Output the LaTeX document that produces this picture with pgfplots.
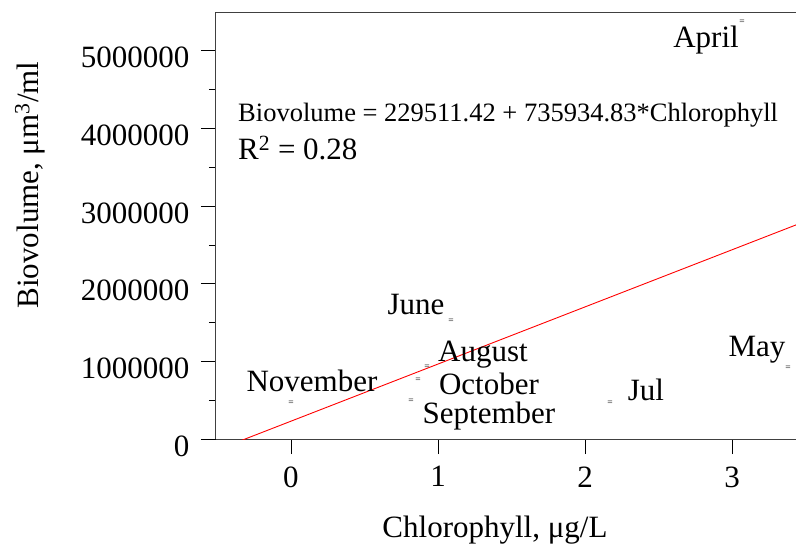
\documentclass[border=0pt]{standalone}
\usepackage{pgfplots}
\pgfplotsset{compat=1.18}
\usepackage{fontspec}
\setmainfont{Liberation Serif}
\pgfplotstableread{
x y label dx dy
3.068 5371000 April -36 -18
3.381 914000 May -31 18
2.170 464000 Jul 36 13
1.088 1520000 June -35 16
0.925 927000 August 56 12
0.864 760000 October 71 -4
0.816 489000 September 78 -15
0.000 464000 November 21 22
}\months
\begin{document}
\begin{tikzpicture}
\useasboundingbox (-216pt,-113pt) rectangle (580pt,439pt);
\begin{axis}[
  at={(0pt,0pt)}, anchor=south west,
  scale only axis, width=580pt, height=427pt,
  xmin=-0.510, xmax=3.435, ymin=0, ymax=5500000,
  axis x line*=bottom, axis y line*=left,
  axis line style={black!75, line width=1pt},
  every tick/.style={black, line width=0.8pt},
  tick align=outside,
  major tick length=15pt, minor tick length=7pt,
  xtick={0,1,2,3},
  ytick={0,1000000,2000000,3000000,4000000,5000000},
  minor y tick num=1,
  scaled y ticks=false,
  /pgf/number format/assume math mode=true,
  yticklabel style={/pgf/number format/fixed, /pgf/number format/1000 sep={}, font=\fontsize{31}{36}\selectfont, xshift=-8pt, yshift=-7pt},
  xticklabel style={font=\fontsize{31}{36}\selectfont, yshift=-9pt},
]
\addplot[red, line width=0.9pt] coordinates {(-0.6,-212050) (3.5,2805283)};
\addplot[black, only marks, mark=text, text mark={\fontsize{9.5}{9.5}\selectfont\color{black}=},
  nodes near coords, point meta=explicit symbolic,
  visualization depends on={\thisrow{dx} \as \dx},
  visualization depends on={\thisrow{dy} \as \dy},
  every node near coord/.append style={black, anchor=center, xshift=\dx pt, yshift=\dy pt, font=\fontsize{31}{36}\selectfont, inner sep=0pt}
] table[x=x, y=y, meta=label] {\months};
\draw[black!75, line width=1pt] (rel axis cs:0,1) -- (rel axis cs:1,1);
\draw[black, line width=0.8pt] (rel axis cs:0,1) -- ++(-7pt,0pt);
\node[anchor=west, font=\fontsize{26.5}{30}\selectfont, inner sep=0pt] at (rel axis cs:0.038,0.759) {Biovolume = 229511.42 + 735934.83*Chlorophyll};
\node[anchor=west, font=\fontsize{31}{36}\selectfont, inner sep=0pt] at (rel axis cs:0.038,0.681) {R\textsuperscript{2} = 0.28};
\end{axis}
\node[rotate=90, font=\fontsize{31}{36}\selectfont] at (-186pt,254pt) {Biovolume, μm\textsuperscript{3}/ml};
\node[font=\fontsize{31}{36}\selectfont] at (279pt,-91pt) {Chlorophyll, μg/L};
\end{tikzpicture}
\end{document}
